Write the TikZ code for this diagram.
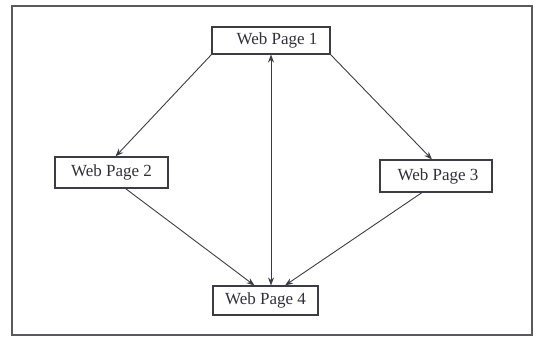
\documentclass[tikz,border=0pt]{standalone}
\usepackage{fontspec}
\setmainfont{Liberation Serif}
\usetikzlibrary{arrows.meta}
\definecolor{ink}{HTML}{3C3C46}
\begin{document}
\begin{tikzpicture}[x=1pt,y=-1pt,
  page/.style={draw=ink,line width=1.1pt,rectangle,inner sep=0pt,
    font=\fontsize{17}{20}\selectfont,text=ink!80!black},
  link/.style={draw=ink,line width=0.9pt,-{Stealth[length=8pt,width=6pt]}},
  both/.style={draw=ink,line width=0.9pt,{Stealth[length=8pt,width=6pt]}-{Stealth[length=8pt,width=6pt]}}]
  \useasboundingbox (0,0) rectangle (534,338);
  % outer frame
  \draw[ink!85,line width=1.3pt] (12,6) rectangle (532,335);
  % pages
  \node[page,minimum width=118pt,minimum height=27pt] (wp1) at (271,40.5) {\hspace{12pt}Web Page 1};
  \node[page,minimum width=113pt,minimum height=31pt] (wp2) at (111.5,172.5) {Web Page 2};
  \node[page,minimum width=112pt,minimum height=32pt] (wp3) at (436,176) {\hspace{4pt}Web Page 3};
  \node[page,minimum width=105pt,minimum height=29pt] (wp4) at (265.5,300.5) {Web Page 4};
  % links
  \draw[link] (wp1.south west) -- ([xshift=4pt]wp2.north);
  \draw[link] (wp1.south east) -- ([xshift=-4pt]wp3.north);
  \draw[link] ([xshift=14pt]wp2.south) -- ([xshift=-11pt]wp4.north);
  \draw[link] ([xshift=-14pt]wp3.south) -- ([xshift=19.5pt]wp4.north);
  \draw[both] (wp1.south) -- (wp1.south |- wp4.north);
\end{tikzpicture}
\end{document}
